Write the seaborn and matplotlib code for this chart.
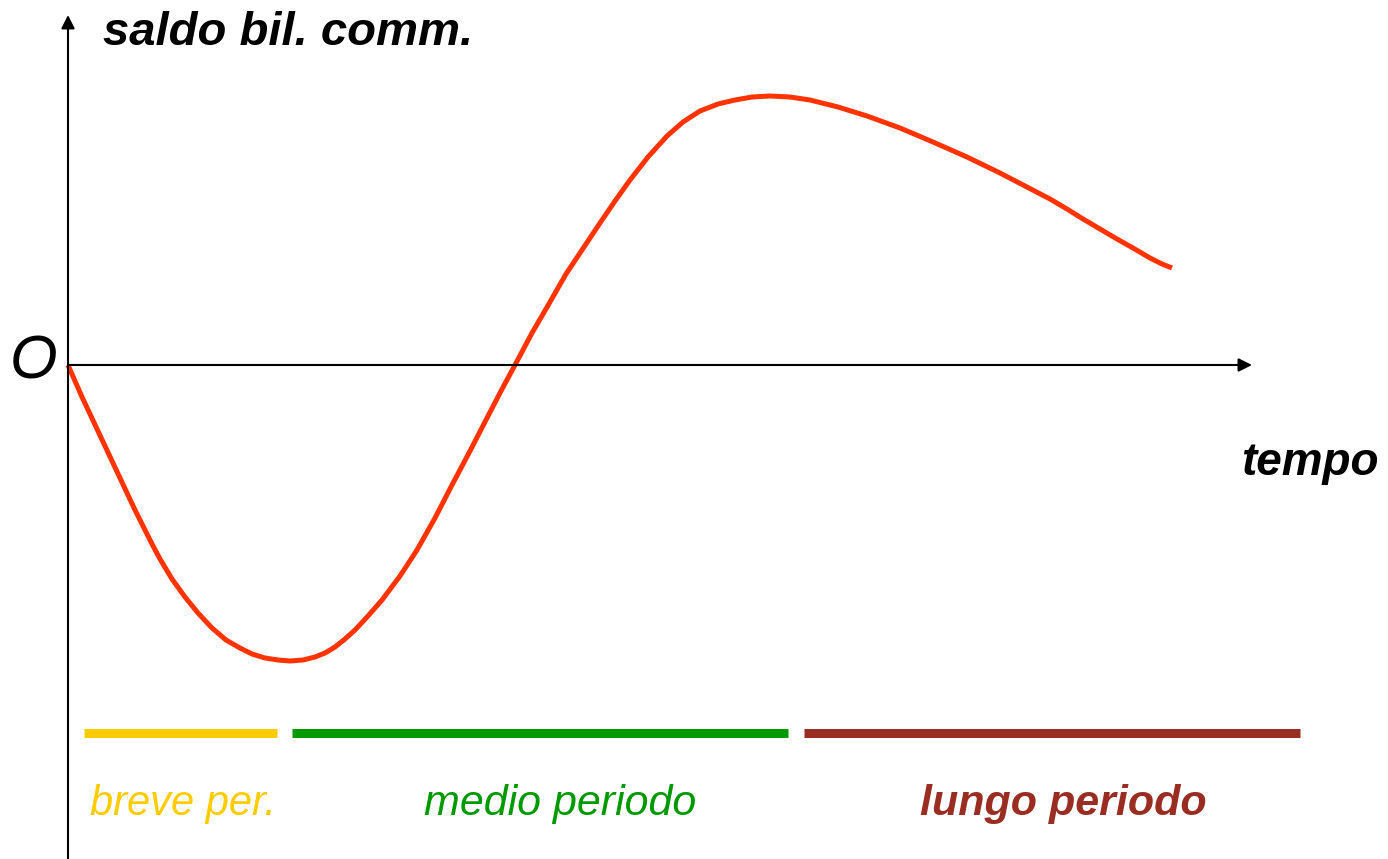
import matplotlib
matplotlib.use("Agg")
import matplotlib.pyplot as plt
import pandas as pd
import seaborn as sns

# ── data (time units from origin, balance above/below zero) ──────────────────
tempo = [0, 7, 14, 22, 29, 37, 44, 52, 59, 67, 75, 83, 92, 104, 117, 130,
         144, 158, 172, 184, 197, 210, 222, 235, 247, 257, 267, 277, 287,
         300, 314, 332, 349, 367, 384, 402, 419, 433, 447, 464, 482, 498,
         514, 532, 547, 562, 580, 599, 615, 632, 650, 667, 684, 702, 722,
         742, 770, 799, 832, 865, 899, 932, 957, 982, 999, 1015, 1032, 1049,
         1065, 1082, 1094, 1104]
saldo = [0, -16, -32, -49, -64, -81, -96, -113, -128, -145, -161, -177,
         -194, -214, -232, -248, -263, -275, -283, -289, -293, -295, -296,
         -295, -292, -288, -282, -274, -265, -251, -235, -211, -185, -153,
         -120, -86, -53, -26, 0, 32, 63, 91, 115, 142, 164, 185, 208, 229,
         243, 254, 261, 265, 268, 269, 268, 265, 258, 249, 237, 223, 208,
         192, 179, 166, 156, 146, 136, 126, 117, 107, 101, 97]

periods = ["breve per.", "medio periodo", "lungo periodo"]
period_start = [16, 224, 736]
period_end = [209, 720, 1232]
label_center = [115, 492, 995]
period_colors = ["#FFCC00", "#009900", "#992D22"]
period_weight = ["normal", "normal", "bold"]

CURVE = "#FF3300"

sns.set_theme(style="white")
plt.rcParams["font.family"] = ["Liberation Sans", "DejaVu Sans"]
plt.rcParams["text.color"] = "black"

fig = plt.figure(figsize=(13.88, 8.59), dpi=100)
ax = fig.add_axes([0, 0, 1, 1])
ax.set_xlim(-68, 1320)
ax.set_ylim(-494, 365)
ax.axis("off")

df = pd.DataFrame({"tempo": tempo, "saldo": saldo})
sns.lineplot(data=df, x="tempo", y="saldo", ax=ax, color=CURVE, lw=3.6,
             zorder=3, solid_capstyle="butt", solid_joinstyle="round")

# axes with arrows
arrow = dict(arrowstyle="-|>", lw=1.5, color="black", mutation_scale=20,
             shrinkA=0, shrinkB=0)
ax.annotate("", xy=(1184, 0), xytext=(0, 0), arrowprops=arrow)
ax.annotate("", xy=(0, 350), xytext=(0, -494), arrowprops=arrow)

ax.text(-35, 2, "O", fontsize=44, style="italic", ha="center", va="center",
        color="black")
ax.text(35, 320, "saldo bil. comm.", fontsize=34, style="italic",
        weight="bold", ha="left", va="baseline", color="black")
ax.text(1242, -110, "tempo", fontsize=33, style="italic", weight="bold",
        ha="center", va="baseline", color="black")

# period bars + labels
for name, s, e, xc, c, w in zip(periods, period_start, period_end,
                                label_center, period_colors, period_weight):
    ax.hlines(-367.5, s, e, color=c, lw=6.5, capstyle="butt")
    ax.text(xc, -450, name, fontsize=31 if name != "breve per." else 30,
            style="italic", weight=w, color=c, ha="center", va="baseline")

fig.savefig("out.png", dpi=100, facecolor="white")
